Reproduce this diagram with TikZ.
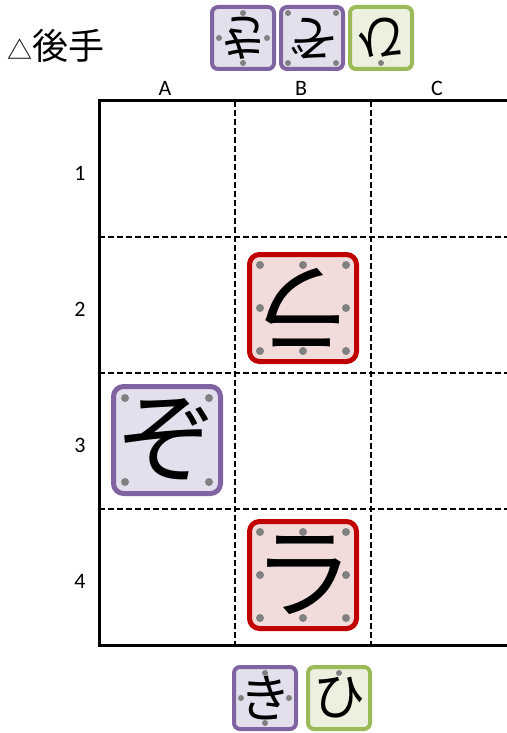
\documentclass[tikz,border=0pt]{standalone}
\usepackage{fontspec}
\usepackage{graphicx}
\setmainfont{Carlito}
\newfontfamily\jpfont{Noto Sans CJK JP}
\usetikzlibrary{positioning, calc}

\definecolor{komaPurple}{HTML}{8064A2}
\definecolor{komaPurpleFill}{HTML}{E4DFEC}
\definecolor{komaRed}{HTML}{C00000}
\definecolor{komaRedFill}{HTML}{F2DCDB}
\definecolor{komaGreen}{HTML}{9BBB59}
\definecolor{komaGreenFill}{HTML}{EBF1DE}
\definecolor{komaDot}{HTML}{808080}

\begin{document}
\begin{tikzpicture}[x=1pt, y=-1pt,
    frame/.style={line width=3pt},
    cellline/.style={line width=1.8pt, dash pattern=on 6pt off 3pt},
    koma/.style={line width=5pt, rounded corners=10pt, minimum size=107pt, inner sep=0pt, font=\jpfont\fontsize{100}{100}\selectfont},
    mochi/.style={line width=4pt, rounded corners=6pt, minimum size=62pt, inner sep=0pt, font=\jpfont\fontsize{52}{52}\selectfont},
    gotemochi/.style={mochi, font=\jpfont\fontsize{50}{50}\selectfont},
    purplekoma/.style={draw=komaPurple, fill=komaPurpleFill},
    redkoma/.style={draw=komaRed, fill=komaRedFill},
    greenkoma/.style={draw=komaGreen, fill=komaGreenFill},
    pdot/.style={fill=komaDot},
    label/.style={font=\fontsize{22}{22}\selectfont}]
    \useasboundingbox (0,0) rectangle (506,733);

    % board
    \foreach \x in {235,371}
        \draw[cellline] (\x,101) -- (\x,645);
    \foreach \y in {237,373,509}
        \draw[cellline] (99,\y) -- (512,\y);
    \draw[frame] (512,101) -- (99,101) -- (99,645) -- (512,645);

    \foreach \c [count=\i] in {A,B,C}
        \node[label] (col\c) at ({99+136*\i-70},88) {\c};
    \foreach \r in {1,...,4}
        \node[label] (row\r) at (80,{101+136*\r-64}) {\r};

    % pieces on the board
    \node[koma, redkoma] (b2) at (303,308) {\rotatebox{180}{ラ}};
    \node[koma, purplekoma] (a3) at (167,440) {ぞ};
    \node[koma, redkoma] (b4) at (303,575) {ラ};

    \foreach \dx/\dy in {-1/-1,0/-1,1/-1,-1/0,1/0,-1/1,0/1,1/1} {
        \fill[pdot] ($(b2)+(43*\dx,43*\dy)$) circle (4);
        \fill[pdot] ($(b4)+(43*\dx,43*\dy)$) circle (4);
    }
    \foreach \dx/\dy in {-1/-1,1/-1,-1/1,1/1}
        \fill[pdot] ($(a3)+(42*\dx,42*\dy)$) circle (4);

    % gote hand
    \node[anchor=base west, font=\jpfont\fontsize{36}{36}\selectfont] (gote) at (4,60) {{\fontsize{25}{25}\selectfont △}後手};
    \node[gotemochi, purplekoma] (gk) at (243,38) {\rotatebox{180}{き}};
    \node[gotemochi, purplekoma, right=3pt of gk] (gz) {\rotatebox{180}{ぞ}};
    \node[gotemochi, greenkoma, right=3pt of gz] (gh) {\rotatebox{180}{ひ}};

    \foreach \dx/\dy in {0/-1,-1/0,1/0,0/1}
        \fill[pdot] ($(gk)+(24*\dx,25*\dy)$) circle (3);
    \foreach \dx/\dy in {-1/-1,1/-1,-1/1,1/1}
        \fill[pdot] ($(gz)+(24*\dx,25*\dy)$) circle (3);
    \fill[pdot] ($(gh)+(0,25)$) circle (3);

    % sente hand
    \node[mochi, purplekoma] (sk) at (265,698) {き};
    \node[mochi, greenkoma, right=8pt of sk] (sh) {ひ};

    \foreach \dx/\dy in {0/-1,-1/0,1/0,0/1}
        \fill[pdot] ($(sk)+(24*\dx,25*\dy)$) circle (3);
    \fill[pdot] ($(sh)+(0,-25)$) circle (3);
\end{tikzpicture}
\end{document}
